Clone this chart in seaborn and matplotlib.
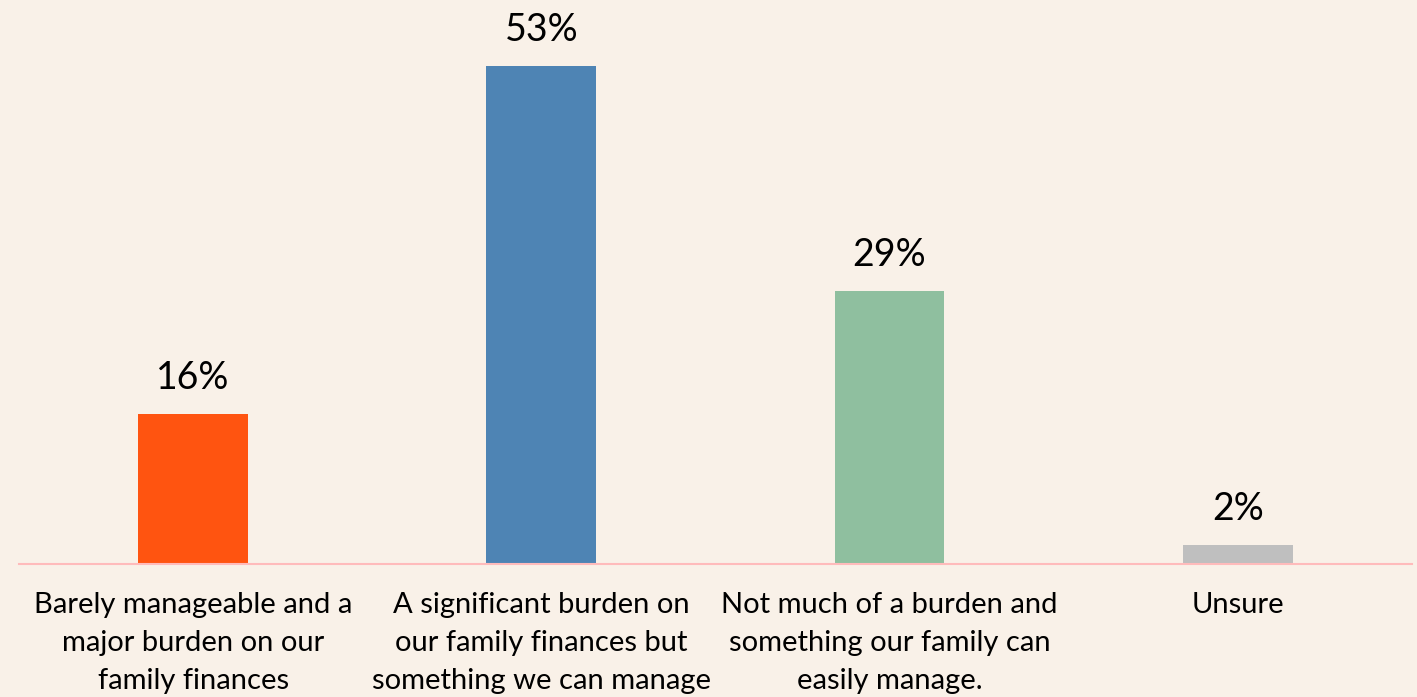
import matplotlib
matplotlib.use("Agg")
import matplotlib.pyplot as plt
import seaborn as sns
import pandas as pd

# survey answers and shares (%)
categories = [
    "Barely manageable and a\nmajor burden on our\nfamily finances",
    "A significant burden on\nour family finances but\nsomething we can manage",
    "Not much of a burden and\nsomething our family can\neasily manage.",
    "Unsure",
]
shares = [16, 53, 29, 2]
colors = ["#FF5410", "#4E84B4", "#8FBF9F", "#BFBFBF"]

bg = "#F9F1E8"
sns.set_theme(style="white")
plt.rcParams["font.family"] = ["Lato", "DejaVu Sans"]

df = pd.DataFrame({"answer": categories, "share": shares})

fig = plt.figure(figsize=(14.17, 6.97), dpi=100, facecolor=bg)
ax = fig.add_axes([0.0134, 0.191, 0.983, 0.809])
ax.set_facecolor(bg)

sns.barplot(data=df, x="answer", y="share", hue="answer", palette=colors,
            width=0.315, legend=False, ax=ax, saturation=1, linewidth=0)

for i, v in enumerate(shares):
    ax.text(i, v + 1.9, f"{v}%", ha="center", va="bottom", fontsize=27, color="black")

ax.set_xlim(-0.5, 3.5)
ax.set_ylim(0, 60)
ax.set_xlabel("")
ax.set_ylabel("")
ax.set_yticks([])
ax.tick_params(axis="x", length=0, pad=20, labelsize=21, labelcolor="black")
for lbl in ax.get_xticklabels():
    lbl.set_linespacing(1.57)
sns.despine(ax=ax, left=True)
ax.spines["bottom"].set_color("#FFBBBB")
ax.spines["bottom"].set_linewidth(1.5)

fig.savefig("out.png", dpi=100, facecolor=bg)
